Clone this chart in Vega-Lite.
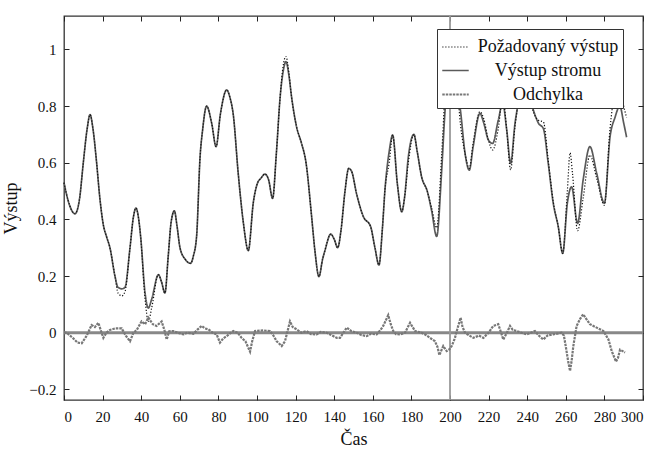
{
  "$schema": "https://vega.github.io/schema/vega-lite/v6.json",
  "width": 579,
  "height": 384,
  "autosize": {"type": "none"},
  "padding": {"left": 64, "top": 16, "right": 13, "bottom": 57},
  "background": "white",
  "config": {
    "font": "Liberation Serif",
    "view": {"stroke": "#333", "strokeWidth": 1.3},
    "axis": {
      "domain": false, "grid": false, "ticks": true, "tickColor": "#222", "tickSize": 5, "tickWidth": 1, "offset": -5, "zindex": 1,
      "labelFont": "Liberation Serif", "labelFontSize": 15, "labelColor": "#111",
      "titleFont": "Liberation Serif", "titleFontSize": 18, "titleFontWeight": "normal", "titleColor": "#111"
    },
    "legend": {"labelFont": "Liberation Serif"}
  },
  "resolve": {"axis": {"x": "independent", "y": "independent"}},
  "layer": [
    {
      "data": {"values": [{"v": 0}]},
      "mark": {"type": "rule", "color": "#888", "strokeWidth": 3},
      "encoding": {
        "y": {"field": "v", "type": "quantitative", "scale": {"domain": [-0.2375, 1.118], "nice": false, "zero": false}, "axis": null}
      }
    },
    {
      "data": {"values": [{"t": 200}]},
      "mark": {"type": "rule", "color": "#999", "strokeWidth": 1.8},
      "encoding": {
        "x": {"field": "t", "type": "quantitative", "scale": {"domain": [0, 300], "nice": false}, "axis": null}
      }
    },
    {
      "data": {"values": [
        {"t":0,"v":0.53,"s":"Výstup stromu"},{"t":2,"v":0.47,"s":"Výstup stromu"},{"t":5.7,"v":0.42,"s":"Výstup stromu"},{"t":8,"v":0.47,"s":"Výstup stromu"},{"t":10,"v":0.6,"s":"Výstup stromu"},{"t":12,"v":0.72,"s":"Výstup stromu"},{"t":13.5,"v":0.77,"s":"Výstup stromu"},{"t":15,"v":0.72,"s":"Výstup stromu"},{"t":16.9,"v":0.6,"s":"Výstup stromu"},{"t":18.5,"v":0.48,"s":"Výstup stromu"},{"t":20.4,"v":0.38,"s":"Výstup stromu"},{"t":22,"v":0.34,"s":"Výstup stromu"},{"t":23.8,"v":0.3,"s":"Výstup stromu"},{"t":26.4,"v":0.2,"s":"Výstup stromu"},{"t":28,"v":0.16,"s":"Výstup stromu"},{"t":30,"v":0.155,"s":"Výstup stromu"},{"t":31.6,"v":0.16,"s":"Výstup stromu"},{"t":34.2,"v":0.3,"s":"Výstup stromu"},{"t":36,"v":0.41,"s":"Výstup stromu"},{"t":37.3,"v":0.44,"s":"Výstup stromu"},{"t":38.5,"v":0.41,"s":"Výstup stromu"},{"t":39.7,"v":0.34,"s":"Výstup stromu"},{"t":42,"v":0.14,"s":"Výstup stromu"},{"t":43.7,"v":0.087,"s":"Výstup stromu"},{"t":45.5,"v":0.12,"s":"Výstup stromu"},{"t":48.9,"v":0.205,"s":"Výstup stromu"},{"t":50.5,"v":0.18,"s":"Výstup stromu"},{"t":52.3,"v":0.14,"s":"Výstup stromu"},{"t":54,"v":0.27,"s":"Výstup stromu"},{"t":55.5,"v":0.39,"s":"Výstup stromu"},{"t":57.2,"v":0.43,"s":"Výstup stromu"},{"t":58.5,"v":0.38,"s":"Výstup stromu"},{"t":60.1,"v":0.3,"s":"Výstup stromu"},{"t":62.7,"v":0.26,"s":"Výstup stromu"},{"t":65.6,"v":0.245,"s":"Výstup stromu"},{"t":67,"v":0.27,"s":"Výstup stromu"},{"t":68.7,"v":0.34,"s":"Výstup stromu"},{"t":70.5,"v":0.62,"s":"Výstup stromu"},{"t":71.8,"v":0.715,"s":"Výstup stromu"},{"t":73.9,"v":0.8,"s":"Výstup stromu"},{"t":76.5,"v":0.74,"s":"Výstup stromu"},{"t":78.8,"v":0.657,"s":"Výstup stromu"},{"t":81,"v":0.77,"s":"Výstup stromu"},{"t":84.3,"v":0.857,"s":"Výstup stromu"},{"t":86,"v":0.83,"s":"Výstup stromu"},{"t":87.7,"v":0.77,"s":"Výstup stromu"},{"t":90.3,"v":0.56,"s":"Výstup stromu"},{"t":92.9,"v":0.39,"s":"Výstup stromu"},{"t":95.5,"v":0.29,"s":"Výstup stromu"},{"t":98.1,"v":0.46,"s":"Výstup stromu"},{"t":100.2,"v":0.527,"s":"Výstup stromu"},{"t":102,"v":0.545,"s":"Výstup stromu"},{"t":104.1,"v":0.56,"s":"Výstup stromu"},{"t":106,"v":0.54,"s":"Výstup stromu"},{"t":108.1,"v":0.474,"s":"Výstup stromu"},{"t":110,"v":0.63,"s":"Výstup stromu"},{"t":112,"v":0.833,"s":"Výstup stromu"},{"t":113.5,"v":0.92,"s":"Výstup stromu"},{"t":115,"v":0.957,"s":"Výstup stromu"},{"t":116.5,"v":0.91,"s":"Výstup stromu"},{"t":117.9,"v":0.833,"s":"Výstup stromu"},{"t":120.5,"v":0.727,"s":"Výstup stromu"},{"t":123,"v":0.67,"s":"Výstup stromu"},{"t":125.4,"v":0.6,"s":"Výstup stromu"},{"t":128.3,"v":0.41,"s":"Výstup stromu"},{"t":130,"v":0.29,"s":"Výstup stromu"},{"t":132.1,"v":0.198,"s":"Výstup stromu"},{"t":134,"v":0.26,"s":"Výstup stromu"},{"t":135.2,"v":0.29,"s":"Výstup stromu"},{"t":138.2,"v":0.348,"s":"Výstup stromu"},{"t":140,"v":0.33,"s":"Výstup stromu"},{"t":141.8,"v":0.3,"s":"Výstup stromu"},{"t":143.5,"v":0.36,"s":"Výstup stromu"},{"t":145.6,"v":0.5,"s":"Výstup stromu"},{"t":147.5,"v":0.58,"s":"Výstup stromu"},{"t":149,"v":0.57,"s":"Výstup stromu"},{"t":151.6,"v":0.49,"s":"Výstup stromu"},{"t":155.1,"v":0.41,"s":"Výstup stromu"},{"t":158.9,"v":0.374,"s":"Výstup stromu"},{"t":161.1,"v":0.3,"s":"Výstup stromu"},{"t":163.2,"v":0.239,"s":"Výstup stromu"},{"t":165,"v":0.37,"s":"Výstup stromu"},{"t":166.3,"v":0.504,"s":"Výstup stromu"},{"t":168.5,"v":0.64,"s":"Výstup stromu"},{"t":170.3,"v":0.698,"s":"Výstup stromu"},{"t":172.7,"v":0.527,"s":"Výstup stromu"},{"t":175,"v":0.427,"s":"Výstup stromu"},{"t":176.5,"v":0.48,"s":"Výstup stromu"},{"t":178.4,"v":0.62,"s":"Výstup stromu"},{"t":181.3,"v":0.7,"s":"Výstup stromu"},{"t":183,"v":0.64,"s":"Výstup stromu"},{"t":185.3,"v":0.55,"s":"Výstup stromu"},{"t":188.2,"v":0.5,"s":"Výstup stromu"},{"t":190.5,"v":0.43,"s":"Výstup stromu"},{"t":193.1,"v":0.34,"s":"Výstup stromu"},{"t":195.7,"v":0.574,"s":"Výstup stromu"},{"t":197.4,"v":0.78,"s":"Výstup stromu"},{"t":199.5,"v":0.92,"s":"Výstup stromu"},{"t":201.5,"v":0.95,"s":"Výstup stromu"},{"t":203.5,"v":0.88,"s":"Výstup stromu"},{"t":205.5,"v":0.78,"s":"Výstup stromu"},{"t":207.8,"v":0.633,"s":"Výstup stromu"},{"t":210,"v":0.574,"s":"Výstup stromu"},{"t":212,"v":0.657,"s":"Výstup stromu"},{"t":215.5,"v":0.774,"s":"Výstup stromu"},{"t":217.5,"v":0.74,"s":"Výstup stromu"},{"t":219.9,"v":0.68,"s":"Výstup stromu"},{"t":222.1,"v":0.668,"s":"Výstup stromu"},{"t":225,"v":0.75,"s":"Výstup stromu"},{"t":227.3,"v":0.81,"s":"Výstup stromu"},{"t":229.4,"v":0.715,"s":"Výstup stromu"},{"t":231.4,"v":0.598,"s":"Výstup stromu"},{"t":233.7,"v":0.74,"s":"Výstup stromu"},{"t":236,"v":0.83,"s":"Výstup stromu"},{"t":238.5,"v":0.88,"s":"Výstup stromu"},{"t":241,"v":0.84,"s":"Výstup stromu"},{"t":243.2,"v":0.786,"s":"Výstup stromu"},{"t":245.8,"v":0.74,"s":"Výstup stromu"},{"t":248.4,"v":0.72,"s":"Výstup stromu"},{"t":250.9,"v":0.598,"s":"Výstup stromu"},{"t":253.5,"v":0.457,"s":"Výstup stromu"},{"t":256.1,"v":0.374,"s":"Výstup stromu"},{"t":258.4,"v":0.28,"s":"Výstup stromu"},{"t":260.8,"v":0.457,"s":"Výstup stromu"},{"t":263,"v":0.515,"s":"Výstup stromu"},{"t":266.1,"v":0.386,"s":"Výstup stromu"},{"t":269,"v":0.54,"s":"Výstup stromu"},{"t":272.5,"v":0.657,"s":"Výstup stromu"},{"t":276,"v":0.563,"s":"Výstup stromu"},{"t":280,"v":0.457,"s":"Výstup stromu"},{"t":282.9,"v":0.69,"s":"Výstup stromu"},{"t":285.5,"v":0.76,"s":"Výstup stromu"},{"t":288,"v":0.8,"s":"Výstup stromu"},{"t":290,"v":0.74,"s":"Výstup stromu"},{"t":291.5,"v":0.69,"s":"Výstup stromu"}
      ]},
      "mark": {"type": "line", "interpolate": "monotone"},
      "encoding": {
        "x": {"field": "t", "type": "quantitative", "title": "Čas", "axis": {"orient": "bottom", "values": [0,20,40,60,80,100,120,140,160,180,200,220,240,260,280,300], "ticks": true, "tickSize": 5, "labelPadding": 9, "titlePadding": 6}},
        "y": {"field": "v", "type": "quantitative", "title": "Výstup", "axis": {"orient": "left", "values": [-0.2,0,0.2,0.4,0.6,0.8,1], "format": "~g", "ticks": true, "tickSize": 5, "labelPadding": 8, "titlePadding": 8}},
        "color": {"field": "s", "type": "nominal", "scale": {"domain": ["Požadovaný výstup", "Výstup stromu", "Odchylka"], "range": ["#111111", "#5a5a5a", "#777777"]},
          "legend": {"title": null, "orient": "none", "legendX": 373, "legendY": 13, "fillColor": "white", "strokeColor": "#333", "padding": 4, "symbolType": "stroke", "symbolSize": 700, "labelFontSize": 18, "labelColor": "#111", "labelAlign": "center", "labelOffset": 78, "labelLimit": 300, "rowPadding": 0, "symbolOpacity": 1}},
        "strokeDash": {"field": "s", "type": "nominal", "scale": {"domain": ["Požadovaný výstup", "Výstup stromu", "Odchylka"], "range": [[1.2, 1.8], [1, 0], [2.5, 1]]}},
        "strokeWidth": {"field": "s", "type": "nominal", "scale": {"domain": ["Požadovaný výstup", "Výstup stromu", "Odchylka"], "range": [1.2, 2.2, 0.8]}}
      }
    },
    {
      "data": {"values": [
        {"t":0,"v":0.53,"s":"Požadovaný výstup"},{"t":2,"v":0.47,"s":"Požadovaný výstup"},{"t":5.7,"v":0.42,"s":"Požadovaný výstup"},{"t":8,"v":0.47,"s":"Požadovaný výstup"},{"t":10,"v":0.6,"s":"Požadovaný výstup"},{"t":12,"v":0.72,"s":"Požadovaný výstup"},{"t":13.5,"v":0.77,"s":"Požadovaný výstup"},{"t":15,"v":0.72,"s":"Požadovaný výstup"},{"t":16.9,"v":0.6,"s":"Požadovaný výstup"},{"t":18.5,"v":0.48,"s":"Požadovaný výstup"},{"t":20.4,"v":0.38,"s":"Požadovaný výstup"},{"t":22,"v":0.34,"s":"Požadovaný výstup"},{"t":23.8,"v":0.3,"s":"Požadovaný výstup"},{"t":26.4,"v":0.2,"s":"Požadovaný výstup"},{"t":28,"v":0.14,"s":"Požadovaný výstup"},{"t":30,"v":0.13,"s":"Požadovaný výstup"},{"t":31.6,"v":0.145,"s":"Požadovaný výstup"},{"t":34.2,"v":0.3,"s":"Požadovaný výstup"},{"t":36,"v":0.41,"s":"Požadovaný výstup"},{"t":37.3,"v":0.44,"s":"Požadovaný výstup"},{"t":38.5,"v":0.41,"s":"Požadovaný výstup"},{"t":39.7,"v":0.34,"s":"Požadovaný výstup"},{"t":42,"v":0.12,"s":"Požadovaný výstup"},{"t":43.7,"v":0.04,"s":"Požadovaný výstup"},{"t":45.5,"v":0.09,"s":"Požadovaný výstup"},{"t":48.9,"v":0.205,"s":"Požadovaný výstup"},{"t":50.5,"v":0.18,"s":"Požadovaný výstup"},{"t":52.3,"v":0.14,"s":"Požadovaný výstup"},{"t":54,"v":0.27,"s":"Požadovaný výstup"},{"t":55.5,"v":0.39,"s":"Požadovaný výstup"},{"t":57.2,"v":0.43,"s":"Požadovaný výstup"},{"t":58.5,"v":0.38,"s":"Požadovaný výstup"},{"t":60.1,"v":0.3,"s":"Požadovaný výstup"},{"t":62.7,"v":0.26,"s":"Požadovaný výstup"},{"t":65.6,"v":0.245,"s":"Požadovaný výstup"},{"t":67,"v":0.27,"s":"Požadovaný výstup"},{"t":68.7,"v":0.34,"s":"Požadovaný výstup"},{"t":70.5,"v":0.62,"s":"Požadovaný výstup"},{"t":71.8,"v":0.715,"s":"Požadovaný výstup"},{"t":73.9,"v":0.8,"s":"Požadovaný výstup"},{"t":76.5,"v":0.74,"s":"Požadovaný výstup"},{"t":78.8,"v":0.657,"s":"Požadovaný výstup"},{"t":81,"v":0.77,"s":"Požadovaný výstup"},{"t":84.3,"v":0.857,"s":"Požadovaný výstup"},{"t":86,"v":0.83,"s":"Požadovaný výstup"},{"t":87.7,"v":0.77,"s":"Požadovaný výstup"},{"t":90.3,"v":0.56,"s":"Požadovaný výstup"},{"t":92.9,"v":0.39,"s":"Požadovaný výstup"},{"t":95.5,"v":0.29,"s":"Požadovaný výstup"},{"t":98.1,"v":0.46,"s":"Požadovaný výstup"},{"t":100.2,"v":0.527,"s":"Požadovaný výstup"},{"t":102,"v":0.545,"s":"Požadovaný výstup"},{"t":104.1,"v":0.56,"s":"Požadovaný výstup"},{"t":106,"v":0.54,"s":"Požadovaný výstup"},{"t":108.1,"v":0.474,"s":"Požadovaný výstup"},{"t":110,"v":0.63,"s":"Požadovaný výstup"},{"t":112,"v":0.833,"s":"Požadovaný výstup"},{"t":113.5,"v":0.94,"s":"Požadovaný výstup"},{"t":115,"v":0.975,"s":"Požadovaný výstup"},{"t":116.5,"v":0.92,"s":"Požadovaný výstup"},{"t":117.9,"v":0.833,"s":"Požadovaný výstup"},{"t":120.5,"v":0.727,"s":"Požadovaný výstup"},{"t":123,"v":0.67,"s":"Požadovaný výstup"},{"t":125.4,"v":0.6,"s":"Požadovaný výstup"},{"t":128.3,"v":0.41,"s":"Požadovaný výstup"},{"t":130,"v":0.29,"s":"Požadovaný výstup"},{"t":132.1,"v":0.198,"s":"Požadovaný výstup"},{"t":134,"v":0.26,"s":"Požadovaný výstup"},{"t":135.2,"v":0.29,"s":"Požadovaný výstup"},{"t":138.2,"v":0.348,"s":"Požadovaný výstup"},{"t":140,"v":0.33,"s":"Požadovaný výstup"},{"t":141.8,"v":0.3,"s":"Požadovaný výstup"},{"t":143.5,"v":0.36,"s":"Požadovaný výstup"},{"t":145.6,"v":0.5,"s":"Požadovaný výstup"},{"t":147.5,"v":0.58,"s":"Požadovaný výstup"},{"t":149,"v":0.57,"s":"Požadovaný výstup"},{"t":151.6,"v":0.49,"s":"Požadovaný výstup"},{"t":155.1,"v":0.41,"s":"Požadovaný výstup"},{"t":158.9,"v":0.374,"s":"Požadovaný výstup"},{"t":161.1,"v":0.3,"s":"Požadovaný výstup"},{"t":163.2,"v":0.239,"s":"Požadovaný výstup"},{"t":165,"v":0.37,"s":"Požadovaný výstup"},{"t":166.3,"v":0.504,"s":"Požadovaný výstup"},{"t":168.5,"v":0.6,"s":"Požadovaný výstup"},{"t":170.3,"v":0.698,"s":"Požadovaný výstup"},{"t":172.7,"v":0.527,"s":"Požadovaný výstup"},{"t":175,"v":0.427,"s":"Požadovaný výstup"},{"t":176.5,"v":0.48,"s":"Požadovaný výstup"},{"t":178.4,"v":0.6,"s":"Požadovaný výstup"},{"t":181.3,"v":0.7,"s":"Požadovaný výstup"},{"t":183,"v":0.64,"s":"Požadovaný výstup"},{"t":185.3,"v":0.55,"s":"Požadovaný výstup"},{"t":188.2,"v":0.5,"s":"Požadovaný výstup"},{"t":190.5,"v":0.44,"s":"Požadovaný výstup"},{"t":193.1,"v":0.37,"s":"Požadovaný výstup"},{"t":195.7,"v":0.63,"s":"Požadovaný výstup"},{"t":197.4,"v":0.84,"s":"Požadovaný výstup"},{"t":199.5,"v":0.97,"s":"Požadovaný výstup"},{"t":201.5,"v":0.99,"s":"Požadovaný výstup"},{"t":203.5,"v":0.88,"s":"Požadovaný výstup"},{"t":205.5,"v":0.73,"s":"Požadovaný výstup"},{"t":207.8,"v":0.633,"s":"Požadovaný výstup"},{"t":210,"v":0.58,"s":"Požadovaný výstup"},{"t":212,"v":0.67,"s":"Požadovaný výstup"},{"t":215.5,"v":0.78,"s":"Požadovaný výstup"},{"t":217.5,"v":0.755,"s":"Požadovaný výstup"},{"t":219.9,"v":0.68,"s":"Požadovaný výstup"},{"t":222.1,"v":0.645,"s":"Požadovaný výstup"},{"t":225,"v":0.72,"s":"Požadovaný výstup"},{"t":227.3,"v":0.83,"s":"Požadovaný výstup"},{"t":229.4,"v":0.715,"s":"Požadovaný výstup"},{"t":231.4,"v":0.575,"s":"Požadovaný výstup"},{"t":233.7,"v":0.73,"s":"Požadovaný výstup"},{"t":236,"v":0.83,"s":"Požadovaný výstup"},{"t":238.5,"v":0.88,"s":"Požadovaný výstup"},{"t":241,"v":0.84,"s":"Požadovaný výstup"},{"t":243.2,"v":0.78,"s":"Požadovaný výstup"},{"t":245.8,"v":0.75,"s":"Požadovaný výstup"},{"t":248.4,"v":0.744,"s":"Požadovaný výstup"},{"t":250.9,"v":0.608,"s":"Požadovaný výstup"},{"t":253.5,"v":0.463,"s":"Požadovaný výstup"},{"t":256.1,"v":0.374,"s":"Požadovaný výstup"},{"t":258.4,"v":0.28,"s":"Požadovaný výstup"},{"t":260.8,"v":0.5,"s":"Požadovaný výstup"},{"t":262.2,"v":0.635,"s":"Požadovaný výstup"},{"t":263.5,"v":0.56,"s":"Požadovaný výstup"},{"t":266.1,"v":0.36,"s":"Požadovaný výstup"},{"t":269,"v":0.475,"s":"Požadovaný výstup"},{"t":272.5,"v":0.627,"s":"Požadovaný výstup"},{"t":276,"v":0.545,"s":"Požadovaný výstup"},{"t":280,"v":0.45,"s":"Požadovaný výstup"},{"t":282.9,"v":0.72,"s":"Požadovaný výstup"},{"t":285.5,"v":0.85,"s":"Požadovaný výstup"},{"t":287,"v":0.88,"s":"Požadovaný výstup"},{"t":288.3,"v":0.86,"s":"Požadovaný výstup"},{"t":290,"v":0.8,"s":"Požadovaný výstup"},{"t":291.5,"v":0.76,"s":"Požadovaný výstup"}
      ]},
      "mark": {"type": "line", "interpolate": "monotone"},
      "encoding": {
        "x": {"field": "t", "type": "quantitative", "axis": {"orient": "top", "values": [0,20,40,60,80,100,120,140,160,180,200,220,240,260,280,300], "ticks": true, "tickSize": 5, "labels": false, "title": null}},
        "y": {"field": "v", "type": "quantitative", "axis": {"orient": "right", "values": [-0.2,0,0.2,0.4,0.6,0.8,1], "ticks": true, "tickSize": 5, "labels": false, "title": null}},
        "color": {"field": "s", "type": "nominal"},
        "strokeDash": {"field": "s", "type": "nominal"},
        "strokeWidth": {"field": "s", "type": "nominal"}
      }
    },
    {
      "data": {"values": [
        {"t":0,"v":0,"s":"Odchylka"},{"t":1.4,"v":0,"s":"Odchylka"},{"t":4.8,"v":-0.02,"s":"Odchylka"},{"t":7,"v":-0.035,"s":"Odchylka"},{"t":9.2,"v":-0.037,"s":"Odchylka"},{"t":11.8,"v":-0.01,"s":"Odchylka"},{"t":14.3,"v":0.027,"s":"Odchylka"},{"t":16,"v":0.02,"s":"Odchylka"},{"t":17.8,"v":0.035,"s":"Odchylka"},{"t":19,"v":0.01,"s":"Odchylka"},{"t":20.4,"v":-0.018,"s":"Odchylka"},{"t":22,"v":0,"s":"Odchylka"},{"t":23.8,"v":0.01,"s":"Odchylka"},{"t":26.4,"v":0.015,"s":"Odchylka"},{"t":29.9,"v":0.015,"s":"Odchylka"},{"t":32,"v":-0.01,"s":"Odchylka"},{"t":34.2,"v":-0.03,"s":"Odchylka"},{"t":36,"v":0,"s":"Odchylka"},{"t":37.7,"v":0.01,"s":"Odchylka"},{"t":40.2,"v":0.04,"s":"Odchylka"},{"t":42,"v":0.03,"s":"Odchylka"},{"t":43.7,"v":0.053,"s":"Odchylka"},{"t":46,"v":0.03,"s":"Odchylka"},{"t":48,"v":0.024,"s":"Odchylka"},{"t":50.6,"v":0.04,"s":"Odchylka"},{"t":52,"v":0.01,"s":"Odchylka"},{"t":53.2,"v":-0.024,"s":"Odchylka"},{"t":54.5,"v":0.005,"s":"Odchylka"},{"t":56.6,"v":0.006,"s":"Odchylka"},{"t":59,"v":0,"s":"Odchylka"},{"t":61.8,"v":-0.006,"s":"Odchylka"},{"t":64,"v":0,"s":"Odchylka"},{"t":67,"v":-0.004,"s":"Odchylka"},{"t":69,"v":0.01,"s":"Odchylka"},{"t":71.3,"v":0.024,"s":"Odchylka"},{"t":73,"v":0.015,"s":"Odchylka"},{"t":74.8,"v":0.012,"s":"Odchylka"},{"t":77,"v":0,"s":"Odchylka"},{"t":79.1,"v":-0.006,"s":"Odchylka"},{"t":80.8,"v":-0.035,"s":"Odchylka"},{"t":82.5,"v":-0.02,"s":"Odchylka"},{"t":84.3,"v":-0.012,"s":"Odchylka"},{"t":87.7,"v":0.006,"s":"Odchylka"},{"t":90,"v":0,"s":"Odchylka"},{"t":92,"v":-0.018,"s":"Odchylka"},{"t":94,"v":-0.03,"s":"Odchylka"},{"t":96.4,"v":-0.067,"s":"Odchylka"},{"t":97.5,"v":-0.03,"s":"Odchylka"},{"t":99,"v":0.006,"s":"Odchylka"},{"t":103.3,"v":0.008,"s":"Odchylka"},{"t":106.7,"v":0.006,"s":"Odchylka"},{"t":108.5,"v":-0.01,"s":"Odchylka"},{"t":110.2,"v":-0.03,"s":"Odchylka"},{"t":112.8,"v":-0.047,"s":"Odchylka"},{"t":114.5,"v":-0.03,"s":"Odchylka"},{"t":116,"v":0.01,"s":"Odchylka"},{"t":117.1,"v":0.04,"s":"Odchylka"},{"t":118.5,"v":0.02,"s":"Odchylka"},{"t":120.5,"v":0.012,"s":"Odchylka"},{"t":123,"v":0,"s":"Odchylka"},{"t":125.7,"v":0.006,"s":"Odchylka"},{"t":128,"v":-0.005,"s":"Odchylka"},{"t":130.9,"v":-0.006,"s":"Odchylka"},{"t":133,"v":0.003,"s":"Odchylka"},{"t":136.1,"v":0,"s":"Odchylka"},{"t":139,"v":-0.01,"s":"Odchylka"},{"t":141.3,"v":-0.018,"s":"Odchylka"},{"t":143,"v":-0.018,"s":"Odchylka"},{"t":144.8,"v":0,"s":"Odchylka"},{"t":146.5,"v":0.018,"s":"Odchylka"},{"t":149,"v":0.005,"s":"Odchylka"},{"t":151.7,"v":0,"s":"Odchylka"},{"t":154,"v":-0.008,"s":"Odchylka"},{"t":156.8,"v":-0.012,"s":"Odchylka"},{"t":159,"v":-0.004,"s":"Odchylka"},{"t":162,"v":-0.006,"s":"Odchylka"},{"t":164,"v":0.01,"s":"Odchylka"},{"t":165.4,"v":0.024,"s":"Odchylka"},{"t":168,"v":0.062,"s":"Odchylka"},{"t":169.3,"v":0.03,"s":"Odchylka"},{"t":170.6,"v":0.006,"s":"Odchylka"},{"t":172,"v":-0.005,"s":"Odchylka"},{"t":174.1,"v":-0.006,"s":"Odchylka"},{"t":176.7,"v":0,"s":"Odchylka"},{"t":179.3,"v":0.035,"s":"Odchylka"},{"t":181.9,"v":0.006,"s":"Odchylka"},{"t":185.3,"v":0,"s":"Odchylka"},{"t":187.5,"v":-0.008,"s":"Odchylka"},{"t":189.6,"v":-0.018,"s":"Odchylka"},{"t":192.2,"v":-0.03,"s":"Odchylka"},{"t":193.5,"v":-0.05,"s":"Odchylka"},{"t":194.5,"v":-0.079,"s":"Odchylka"},{"t":196.5,"v":-0.047,"s":"Odchylka"},{"t":198.3,"v":-0.065,"s":"Odchylka"},{"t":199.5,"v":-0.06,"s":"Odchylka"},{"t":200.9,"v":-0.047,"s":"Odchylka"},{"t":202.5,"v":-0.02,"s":"Odchylka"},{"t":203.5,"v":0.006,"s":"Odchylka"},{"t":205.5,"v":0.053,"s":"Odchylka"},{"t":206.5,"v":0.02,"s":"Odchylka"},{"t":207.8,"v":0,"s":"Odchylka"},{"t":210,"v":-0.01,"s":"Odchylka"},{"t":212.1,"v":-0.018,"s":"Odchylka"},{"t":215,"v":-0.01,"s":"Odchylka"},{"t":217.3,"v":-0.018,"s":"Odchylka"},{"t":220,"v":0,"s":"Odchylka"},{"t":222.4,"v":0.024,"s":"Odchylka"},{"t":225,"v":0.03,"s":"Odchylka"},{"t":226.5,"v":0,"s":"Odchylka"},{"t":227.6,"v":-0.024,"s":"Odchylka"},{"t":229.5,"v":0,"s":"Odchylka"},{"t":231.1,"v":0.024,"s":"Odchylka"},{"t":232.5,"v":0.01,"s":"Odchylka"},{"t":234.6,"v":0.006,"s":"Odchylka"},{"t":237,"v":0,"s":"Odchylka"},{"t":239.8,"v":-0.006,"s":"Odchylka"},{"t":244,"v":0.006,"s":"Odchylka"},{"t":246,"v":-0.01,"s":"Odchylka"},{"t":248.3,"v":-0.024,"s":"Odchylka"},{"t":250.5,"v":-0.01,"s":"Odchylka"},{"t":253.5,"v":-0.006,"s":"Odchylka"},{"t":257.8,"v":0,"s":"Odchylka"},{"t":259,"v":-0.01,"s":"Odchylka"},{"t":260.1,"v":-0.053,"s":"Odchylka"},{"t":261.2,"v":-0.1,"s":"Odchylka"},{"t":262.2,"v":-0.135,"s":"Odchylka"},{"t":263,"v":-0.1,"s":"Odchylka"},{"t":263.9,"v":-0.047,"s":"Odchylka"},{"t":265.6,"v":0.024,"s":"Odchylka"},{"t":267.5,"v":0.05,"s":"Odchylka"},{"t":269,"v":0.065,"s":"Odchylka"},{"t":270.5,"v":0.05,"s":"Odchylka"},{"t":272.5,"v":0.03,"s":"Odchylka"},{"t":276,"v":0.018,"s":"Odchylka"},{"t":279.5,"v":0.006,"s":"Odchylka"},{"t":282.1,"v":-0.024,"s":"Odchylka"},{"t":283.8,"v":-0.065,"s":"Odchylka"},{"t":286,"v":-0.102,"s":"Odchylka"},{"t":287,"v":-0.09,"s":"Odchylka"},{"t":288.1,"v":-0.06,"s":"Odchylka"},{"t":289.5,"v":-0.065,"s":"Odchylka"},{"t":290.7,"v":-0.07,"s":"Odchylka"}
      ]},
      "mark": {"type": "line"},
      "encoding": {
        "x": {"field": "t", "type": "quantitative", "axis": null},
        "y": {"field": "v", "type": "quantitative", "axis": null},
        "color": {"field": "s", "type": "nominal"},
        "strokeDash": {"field": "s", "type": "nominal"},
        "strokeWidth": {"field": "s", "type": "nominal"}
      }
    }
  ]
}
